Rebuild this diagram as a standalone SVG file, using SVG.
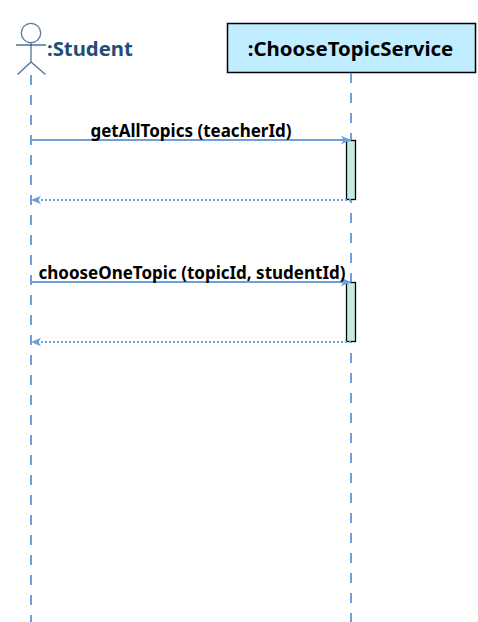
<svg xmlns="http://www.w3.org/2000/svg" width="478" height="622" viewBox="0 0 478 622">
<style>
text{font-family:"Noto Sans","Open Sans","DejaVu Sans",sans-serif;font-weight:700}
.life{stroke:#6d9fd8;stroke-width:2;stroke-dasharray:10 10;fill:none}
.msg{stroke:#6d9fd8;stroke-width:2;fill:none}
.ret{stroke:#6d9fd8;stroke-width:2;stroke-dasharray:2 2;fill:none}
.act{fill:#c5e9e3;stroke:#000;stroke-width:1.300}
.lbl{font-size:17px;fill:#000}
.head{fill:#6d9fd8}
</style>
<defs>
<marker id="arrow" markerUnits="userSpaceOnUse" markerWidth="12" markerHeight="10" refX="10" refY="5" orient="auto"><path d="M0 .8L10 5L0 9.200L2.500 5Z" class="head"/></marker>
</defs>
<rect width="478" height="622" fill="#fff"/>
<g id="student">
<circle cx="31" cy="33" r="9.700" fill="none" stroke="#5b7a9d" stroke-width="1.300"/>
<path d="M31 43V62" stroke="#8da3bd" stroke-width="2" fill="none"/>
<path d="M16 45H46" stroke="#1f4e79" stroke-width="1.200" fill="none"/>
<path d="M17.500 74.500L31 62L45.500 74.500" stroke="#5b7a9d" stroke-width="1.500" fill="none"/>
<text x="47" y="56" font-size="20.300" fill="#1f4e79">:Student</text>
</g>
<g id="service">
<rect x="227.500" y="23.500" width="248" height="49" fill="#c0edff" stroke="#000" stroke-width="1.500"/>
<text x="350.500" y="56" font-size="20.400" fill="#000" text-anchor="middle">:ChooseTopicService</text>
</g>
<g id="activation-1"><rect class="act" x="346.500" y="140.500" width="9" height="59"/></g>
<g id="activation-2"><rect class="act" x="346.500" y="282.500" width="9" height="59"/></g>
<g id="connectors">
<path class="life" d="M31 75V622"/>
<path class="life" d="M351 73V140M351 200V203M351 213V282M351 342V343M351 353V622"/>
<path class="msg" d="M31 140H351" marker-end="url(#arrow)"/>
<path class="ret" d="M351 200H31" marker-end="url(#arrow)"/>
<path class="msg" d="M31 282H351" marker-end="url(#arrow)"/>
<path class="ret" d="M351 342H31" marker-end="url(#arrow)"/>
</g>
<g id="label-1"><text class="lbl" x="191" y="137" text-anchor="middle">getAllTopics (teacherId)</text></g>
<g id="label-2"><text class="lbl" x="192" y="279" text-anchor="middle">chooseOneTopic (topicId, studentId)</text></g>
</svg>
